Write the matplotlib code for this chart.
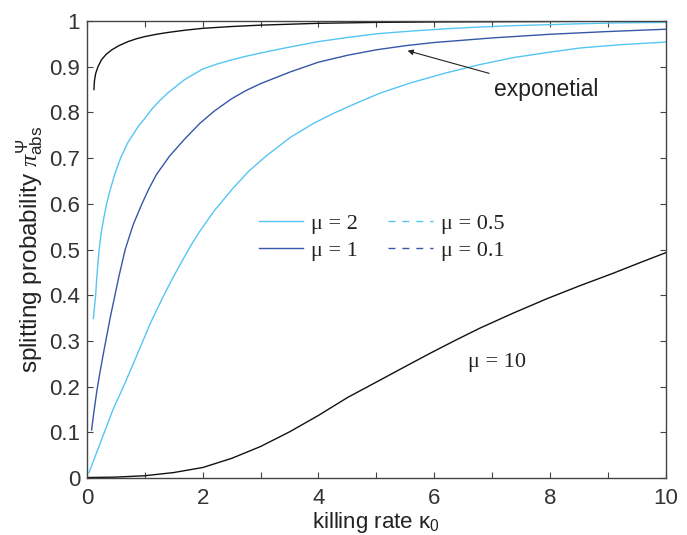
import matplotlib
matplotlib.use("Agg")
import matplotlib.pyplot as plt
from matplotlib.lines import Line2D
from matplotlib.ticker import MultipleLocator, FuncFormatter

plt.rcParams['font.family'] = ['Liberation Sans', 'DejaVu Sans']
plt.rcParams['mathtext.fontset'] = 'custom'
plt.rcParams['mathtext.rm'] = 'Liberation Sans'
plt.rcParams['mathtext.it'] = 'Liberation Serif:italic'
plt.rcParams['mathtext.sf'] = 'Liberation Sans'

# ---- data ----
exp_x = [0.12, 0.13, 0.15, 0.19, 0.25, 0.33, 0.43, 0.55, 0.71, 0.85, 1.0, 1.2, 1.4, 1.7,
         2.0, 2.5, 3.0, 3.5, 4.0, 5.0, 6.0, 8.0, 10.0]
exp_y = [0.850, 0.870, 0.885, 0.900, 0.915, 0.927, 0.937, 0.946, 0.955, 0.961, 0.966, 0.971,
         0.975, 0.980, 0.984, 0.988, 0.991, 0.993, 0.995, 0.997, 0.998, 0.999, 1.0]

mu2_x = [0.11, 0.12, 0.13, 0.15, 0.17, 0.19, 0.21, 0.25, 0.30, 0.34, 0.40, 0.48, 0.58, 0.71,
         0.89, 1.0, 1.12, 1.25, 1.4, 1.55, 1.69, 1.85, 2.0, 2.25, 2.5, 2.75, 3.0, 3.5, 4.0,
         4.5, 5.0, 5.6, 6.2, 6.8, 7.4, 8.0, 8.5, 9.2, 10.0]
mu2_y = [0.349, 0.360, 0.375, 0.400, 0.440, 0.470, 0.500, 0.540, 0.575, 0.600, 0.630, 0.665,
         0.700, 0.735, 0.770, 0.787, 0.807, 0.825, 0.843, 0.858, 0.872, 0.884, 0.895, 0.906,
         0.915, 0.923, 0.930, 0.943, 0.955, 0.964, 0.972, 0.978, 0.983, 0.987, 0.990, 0.992,
         0.994, 0.996, 0.997]

mu1_x = [0.08, 0.12, 0.17, 0.22, 0.28, 0.34, 0.40, 0.45, 0.55, 0.66, 0.80, 0.95, 1.07, 1.2,
         1.43, 1.69, 1.95, 2.2, 2.5, 2.75, 3.0, 3.5, 4.0, 4.5, 5.0, 5.5, 6.0, 7.0, 8.0, 9.0, 10.0]
mu1_y = [0.105, 0.145, 0.190, 0.228, 0.270, 0.310, 0.350, 0.380, 0.440, 0.500, 0.555, 0.600,
         0.633, 0.664, 0.705, 0.742, 0.776, 0.803, 0.830, 0.848, 0.863, 0.888, 0.910, 0.925,
         0.937, 0.946, 0.953, 0.963, 0.971, 0.977, 0.982]

mu05_x = [0.035, 0.15, 0.30, 0.45, 0.63, 0.80, 0.95, 1.1, 1.29, 1.45, 1.6, 1.8, 1.95, 2.2,
          2.53, 2.8, 3.1, 3.51, 3.9, 4.26, 4.65, 5.06, 5.6, 6.22, 6.8, 7.37, 8.0, 8.52, 9.2, 10.0]
mu05_y = [0.012, 0.050, 0.100, 0.150, 0.200, 0.250, 0.295, 0.340, 0.390, 0.430, 0.465, 0.510,
          0.540, 0.585, 0.635, 0.672, 0.705, 0.745, 0.775, 0.798, 0.820, 0.842, 0.865, 0.887,
          0.905, 0.920, 0.932, 0.941, 0.948, 0.954]

mu10_x = [0.0, 0.5, 1.0, 1.5, 2.0, 2.5, 3.0, 3.5, 4.0, 4.5, 5.06, 5.5, 5.93, 6.36, 6.79, 7.35,
          7.94, 8.5, 9.09, 9.55, 10.0]
mu10_y = [0.001, 0.002, 0.005, 0.012, 0.023, 0.043, 0.069, 0.101, 0.137, 0.176, 0.214, 0.244,
          0.273, 0.301, 0.328, 0.360, 0.392, 0.420, 0.448, 0.471, 0.493]

legend_labels = ["μ = 2", "μ = 1", "μ = 0.5", "μ = 0.1"]

LIGHT = '#55c6f3'
DARK = '#3657a8'
BLACK = '#111111'

fig = plt.figure(figsize=(6.87, 5.35), dpi=100)
ax = fig.add_axes([0.1266, 0.1065, 0.8424, 0.8542])

lw = 1.0
ax.plot(exp_x, exp_y, color=BLACK, lw=lw)
l2, = ax.plot(mu2_x, mu2_y, color=LIGHT, lw=lw)
l1, = ax.plot(mu1_x, mu1_y, color=DARK, lw=lw)
ax.plot(mu05_x, mu05_y, color=LIGHT, lw=lw)
ax.plot(mu10_x, mu10_y, color=BLACK, lw=lw)

h05 = Line2D([], [], color=LIGHT, lw=lw, linestyle=(0, (5, 5)))
h01 = Line2D([], [], color=DARK, lw=lw, linestyle=(0, (5, 5)))

leg = ax.legend([l2, l1, h05, h01], legend_labels, ncol=2, frameon=False,
                loc='upper left', bbox_to_anchor=(0.297, 0.580),
                borderaxespad=0, borderpad=0, handlelength=2.0,
                handletextpad=0.35, columnspacing=1.37, labelspacing=0.3,
                prop={'family': 'Liberation Serif', 'size': 16})
for t in leg.get_texts():
    t.set_color('#222222')

ax.text(6.58, 0.252, "μ = 10", fontsize=16, family='Liberation Serif',
        color='#222222', va='center', ha='left')

ax.annotate("exponetial", xy=(5.54, 0.935), xytext=(7.03, 0.851),
            fontsize=16.5, color='#222222', va='center', ha='left',
            arrowprops=dict(arrowstyle='-|>', lw=0.8, color='#222222',
                            mutation_scale=8, shrinkA=4, shrinkB=0))

ax.set_xlim(0, 10)
ax.set_ylim(0, 1)
ax.xaxis.set_major_locator(MultipleLocator(2))
ax.xaxis.set_minor_locator(MultipleLocator(1))
ax.yaxis.set_major_locator(MultipleLocator(0.1))
fmt = FuncFormatter(lambda v, p: f"{v:g}")
ax.xaxis.set_major_formatter(fmt)
ax.yaxis.set_major_formatter(fmt)

for s in ax.spines.values():
    s.set_color('#444444')
    s.set_linewidth(1.0)
ax.tick_params(which='both', direction='in', top=True, right=True,
               length=4.5, width=0.8, color='#444444',
               labelsize=16, labelcolor='#333333')
ax.tick_params(axis='x', which='major', pad=7)
ax.tick_params(axis='y', which='major', pad=5)

ax.set_xlabel("killing rate κ$_0$", fontsize=16, color='#222222', labelpad=1)
ax.set_ylabel(r"splitting probability $\pi^{\Psi}_{\mathsf{abs}}$", fontsize=17.5,
              color='#222222', labelpad=2)

fig.savefig("out.png", dpi=100)
